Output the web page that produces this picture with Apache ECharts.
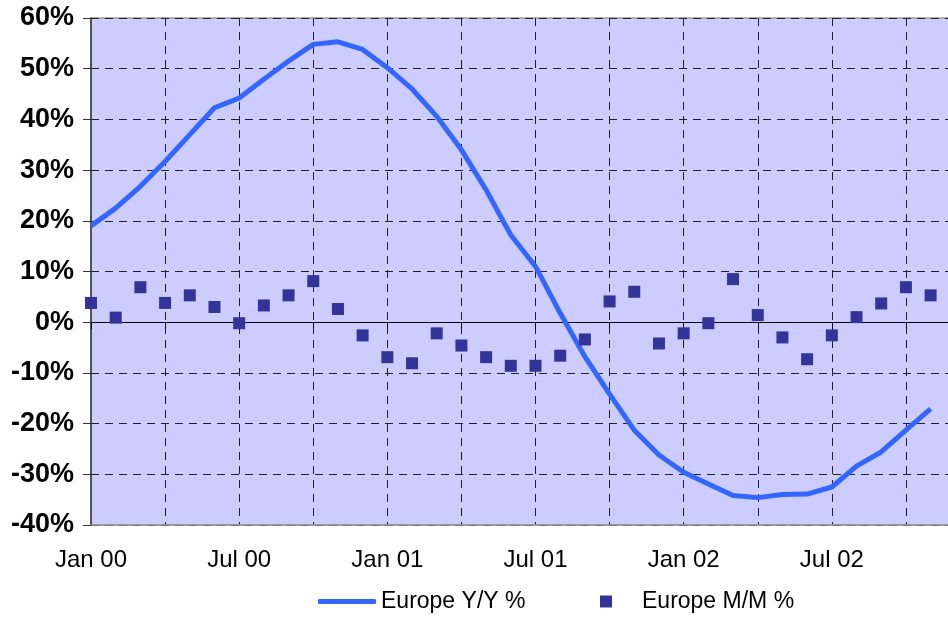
<!DOCTYPE html>
<html>
<head>
<meta charset="utf-8">
<script src="https://cdn.jsdelivr.net/npm/echarts@6/dist/echarts.min.js"></script>
<style>
  html, body { margin: 0; padding: 0; background: #fff; }
  #chart { width: 948px; height: 618px; }
</style>
</head>
<body>
<div id="chart"></div>
<script>
// months on the axis (last ones have no data, axis runs past the crop)
const months = [
  'Jan 00','Feb 00','Mar 00','Apr 00','May 00','Jun 00','Jul 00','Aug 00','Sep 00','Oct 00','Nov 00','Dec 00',
  'Jan 01','Feb 01','Mar 01','Apr 01','May 01','Jun 01','Jul 01','Aug 01','Sep 01','Oct 01','Nov 01','Dec 01',
  'Jan 02','Feb 02','Mar 02','Apr 02','May 02','Jun 02','Jul 02','Aug 02','Sep 02','Oct 02','Nov 02','Dec 02',
  'Jan 03'
]
// Europe Y/Y %
const yoy = [19.0, 22.5, 26.8, 31.7, 37.0, 42.3, 44.2, 47.9, 51.5, 54.8, 55.3, 53.8,
  50.2, 46.0, 40.6, 34.0, 26.1, 17.2, 11.0, 1.8, -6.8, -14.2, -21.3, -26.2,
  -29.6, -31.9, -34.2, -34.6, -34.0, -33.9, -32.5, -28.4, -25.6, -21.3, -17.1]
// Europe M/M %
const mom = [3.8, 0.9, 6.9, 3.8, 5.3, 3.0, -0.2, 3.3, 5.3, 8.1, 2.6, -2.6,
  -6.9, -8.1, -2.2, -4.6, -6.9, -8.6, -8.6, -6.6, -3.4, 4.1, 6.0, -4.2,
  -2.2, -0.2, 8.5, 1.4, -3.0, -7.3, -2.6, 1.0, 3.7, 6.9, 5.3]

const font = "'Liberation Sans', Arial, sans-serif"
const dash = { color: '#222', width: 1, type: [8, 6] }

const chart = echarts.init(document.getElementById('chart'))
chart.setOption({
  animation: false,
  textStyle: { fontFamily: font },
  grid: {
    left: 91, top: 18, width: 889, height: 507,
    outerBoundsMode: 'none', containLabel: false,
    show: true, backgroundColor: '#ccccff', borderColor: '#999', borderWidth: 1.5
  },
  legend: [
    {
      data: ['Europe Y/Y %'], left: 318, top: 590, padding: 0,
      icon: 'roundRect', itemWidth: 58, itemHeight: 5,
      textStyle: { fontSize: 23, color: '#000', fontFamily: font }
    },
    {
      data: ['Europe M/M %'], left: 600, top: 590, padding: 0,
      icon: 'rect', itemWidth: 12, itemHeight: 12,
      textStyle: { fontSize: 23, color: '#000', fontFamily: font, padding: [0, 0, 0, 25] }
    }
  ],
  xAxis: [
    {
      type: 'category', data: months, boundaryGap: false,
      axisLine: { onZero: false, lineStyle: { color: '#999', width: 1.5 } },
      axisTick: { show: false },
      axisLabel: {
        interval: (i) => i % 6 === 0 && i < 36, margin: 23,
        fontSize: 24, color: '#000', fontFamily: font
      },
      splitLine: { show: true, interval: (i) => i % 3 === 0 && i > 0, lineStyle: dash }
    },
    {
      // axis crossing at 0% with its tick marks
      type: 'category', data: months, boundaryGap: false, position: 'bottom',
      axisLine: { onZero: true, lineStyle: { color: '#000', width: 1.2 } },
      axisTick: { show: true, interval: (i) => i % 3 === 0, length: 7, lineStyle: { color: '#000' } },
      axisLabel: { show: false },
      splitLine: { show: false }
    }
  ],
  yAxis: {
    type: 'value', min: -40, max: 60, interval: 10,
    axisLine: { show: true, lineStyle: { color: '#333', width: 1.5 } },
    axisTick: { show: true, length: 8, lineStyle: { color: '#333' } },
    axisLabel: {
      formatter: '{value}%', margin: 17, fontSize: 27, fontWeight: 'bold',
      color: '#000', fontFamily: font
    },
    splitLine: { show: true, lineStyle: dash }
  },
  series: [
    {
      name: 'Europe Y/Y %', type: 'line', data: yoy,
      symbol: 'none', color: '#3366ff',
      lineStyle: { width: 5, color: '#3366ff' },
      z: 3
    },
    {
      name: 'Europe M/M %', type: 'scatter', data: mom,
      symbol: 'rect', symbolSize: 12, color: '#333399',
      itemStyle: { color: '#333399', opacity: 1 },
      z: 4
    }
  ]
})
</script>
</body>
</html>
